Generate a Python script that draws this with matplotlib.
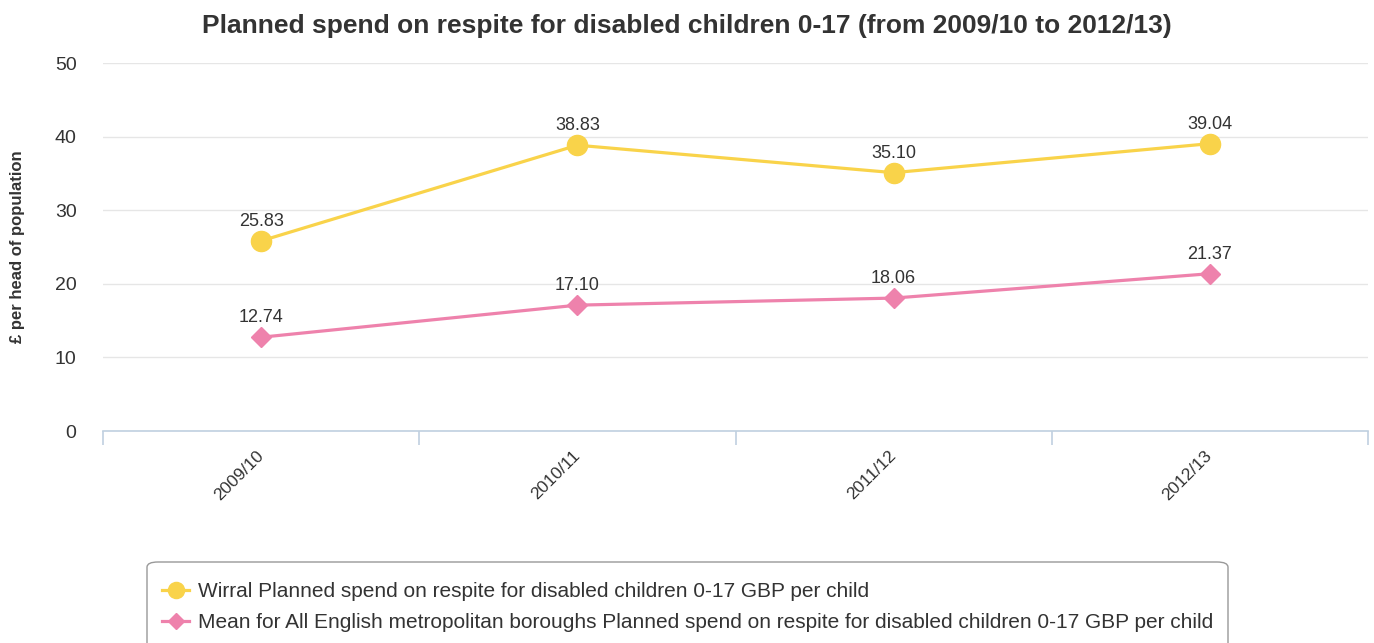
import matplotlib.pyplot as plt
import numpy as np
from matplotlib.patches import FancyBboxPatch

plt.rcParams['font.family'] = ['Liberation Sans', 'DejaVu Sans']

years = ['2009/10', '2010/11', '2011/12', '2012/13']
wirral = [25.83, 38.83, 35.10, 39.04]
mean_mb = [12.74, 17.10, 18.06, 21.37]

wirral_label = 'Wirral Planned spend on respite for disabled children 0-17 GBP per child'
mean_label = ('Mean for All English metropolitan boroughs Planned spend on respite '
              'for disabled children 0-17 GBP per child')

yellow = '#F9D34A'
pink = '#EE82AC'
text_col = '#333333'

fig = plt.figure(figsize=(13.74, 6.43), dpi=100)
ax = fig.add_axes([103 / 1374, 1 - 431 / 643, 1265 / 1374, 368 / 643])

x = np.arange(len(years))
ax.plot(x, wirral, color=yellow, lw=2.3, marker='o', ms=14.5, label=wirral_label, zorder=3)
ax.plot(x, mean_mb, color=pink, lw=2.3, marker='D', ms=10.5, label=mean_label, zorder=3)

for xi, v in zip(x, wirral):
    ax.annotate(f'{v:.2f}', (xi, v), xytext=(0, 8), textcoords='offset points',
                ha='center', va='bottom', fontsize=13, color=text_col)
for xi, v in zip(x, mean_mb):
    ax.annotate(f'{v:.2f}', (xi, v), xytext=(0, 8), textcoords='offset points',
                ha='center', va='bottom', fontsize=13, color=text_col)

ax.set_xlim(-0.5, len(years) - 0.5)
ax.set_ylim(0, 50)
ax.set_yticks(range(0, 51, 10))
ax.grid(axis='y', color='#E6E6E6', lw=1)
ax.set_axisbelow(True)
for s in ['top', 'right', 'left']:
    ax.spines[s].set_visible(False)
ax.spines['bottom'].set_color('#C0D0E0')
ax.spines['bottom'].set_linewidth(1.2)

ax.set_xticks(x)
ax.set_xticklabels(years, rotation=45, ha='right', va='center', rotation_mode='anchor',
                   fontsize=12.5, color=text_col)
ax.tick_params(axis='x', which='major', length=0, pad=16)
ax.set_xticks(np.arange(-0.5, len(years)), minor=True)
ax.tick_params(axis='x', which='minor', length=10, color='#C0D0E0', width=1.2)
ax.tick_params(axis='y', length=0, labelsize=14, labelcolor=text_col, pad=19)

fig.text(18 / 1374, 1 - 247 / 643, '£ per head of population', rotation=90,
         ha='center', va='center', fontsize=12, fontweight='bold', color=text_col)
fig.text(687 / 1374, 1 - 26 / 643,
         'Planned spend on respite for disabled children 0-17 (from 2009/10 to 2012/13)',
         ha='center', va='center', fontsize=19, fontweight='bold', color=text_col)

box = FancyBboxPatch((147 / 1374, -0.05), (1228 - 147) / 1374, (0.05 + 1 - 562 / 643),
                     boxstyle='round,pad=0,rounding_size=0.008', transform=fig.transFigure,
                     facecolor='white', edgecolor='#999999', lw=1)
fig.patches.append(box)
leg = fig.legend(loc='upper left', bbox_to_anchor=(162 / 1374, 1 - 582 / 643),
                 frameon=False, fontsize=15, handlelength=1.3, labelspacing=0.6,
                 handletextpad=0.45, borderpad=0, borderaxespad=0, markerscale=0.8)
for t in leg.get_texts():
    t.set_color(text_col)

fig.savefig('out.png', dpi=100)
